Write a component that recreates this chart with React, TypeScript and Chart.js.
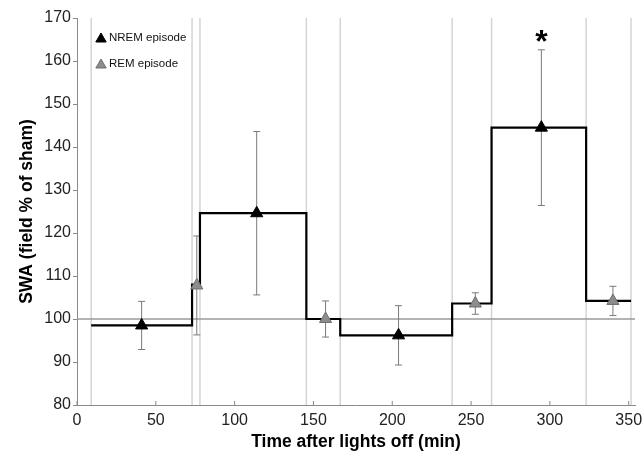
import React, { useEffect, useRef } from 'react';
import { Chart, registerables } from 'chart.js';

Chart.register(...registerables);

// ---- data ----
const xTickValues = [0, 50, 100, 150, 200, 250, 300, 350];
const yTickValues = [80, 90, 100, 110, 120, 130, 140, 150, 160, 170];
const episodeBoundaries = [9, 73, 78, 145.5, 167, 238, 263, 323, 351.5];
const stepLevels = [98.5, 108, 124.6, 100, 96.2, 103.6, 144.5, 104.2];
const nremTimes = [41, 114, 204, 294.6];
const nremValues = [98.5, 124.6, 96.2, 144.5];
const nremErrors = [5.6, 19, 6.9, 18.1];
const nremSignificant = [false, false, false, true];
const remTimes = [76, 157.7, 252.7, 340];
const remValues = [107.8, 100, 103.6, 104.2];
const remErrors = [11.5, 4.2, 2.5, 3.4];
const referenceLevel = 100;
const legendLabels = ['NREM episode', 'REM episode'];

const FONT = "'Liberation Sans', Arial, Helvetica, sans-serif";
const NREM_COLOR = '#000000';
const REM_COLOR = '#8c8c8c';
const REM_BORDER = '#6f6f6f';

function drawTriangle(ctx: CanvasRenderingContext2D, cx: number, cy: number, r: number, fill: string, stroke: string) {
  ctx.beginPath();
  const h = r * 1.5;
  const half = r * Math.sqrt(3) / 2;
  ctx.moveTo(cx, cy - r);
  ctx.lineTo(cx + half, cy - r + h);
  ctx.lineTo(cx - half, cy - r + h);
  ctx.closePath();
  ctx.fillStyle = fill;
  ctx.fill();
  ctx.strokeStyle = stroke;
  ctx.lineWidth = 1;
  ctx.stroke();
}

const decorPlugin = {
  id: 'decor',
  beforeDatasetsDraw(chart: any) {
    const { ctx, chartArea, scales } = chart;
    const x = scales.x;
    const y = scales.y;
    ctx.save();
    // episode boundaries
    ctx.strokeStyle = '#d4d4d4';
    ctx.lineWidth = 1.5;
    episodeBoundaries.forEach((b) => {
      const px = x.getPixelForValue(b);
      ctx.beginPath();
      ctx.moveTo(px, chartArea.top);
      ctx.lineTo(px, chartArea.bottom);
      ctx.stroke();
    });
    // reference line
    ctx.strokeStyle = '#9a9a9a';
    ctx.lineWidth = 1.3;
    const ry = y.getPixelForValue(referenceLevel);
    ctx.beginPath();
    ctx.moveTo(chartArea.left, ry);
    ctx.lineTo(chartArea.right, ry);
    ctx.stroke();
    // error bars
    ctx.strokeStyle = '#7a7a7a';
    ctx.lineWidth = 1;
    const drawErr = (t: number, v: number, e: number) => {
      const px = x.getPixelForValue(t);
      const top = y.getPixelForValue(v + e);
      const bot = y.getPixelForValue(v - e);
      ctx.beginPath();
      ctx.moveTo(px, top);
      ctx.lineTo(px, bot);
      ctx.moveTo(px - 3.5, top);
      ctx.lineTo(px + 3.5, top);
      ctx.moveTo(px - 3.5, bot);
      ctx.lineTo(px + 3.5, bot);
      ctx.stroke();
    };
    nremTimes.forEach((t, i) => drawErr(t, nremValues[i], nremErrors[i]));
    remTimes.forEach((t, i) => drawErr(t, remValues[i], remErrors[i]));
    ctx.restore();
  },
  afterDraw(chart: any) {
    const { ctx, chartArea, scales } = chart;
    const x = scales.x;
    const y = scales.y;
    ctx.save();
    // inward x ticks
    ctx.strokeStyle = '#888';
    ctx.lineWidth = 1;
    xTickValues.forEach((v) => {
      const px = x.getPixelForValue(v);
      ctx.beginPath();
      ctx.moveTo(px, chartArea.bottom);
      ctx.lineTo(px, chartArea.bottom - 4);
      ctx.stroke();
    });
    // significance asterisks
    ctx.fillStyle = '#000';
    ctx.font = `bold 32px ${FONT}`;
    ctx.textAlign = 'center';
    ctx.textBaseline = 'alphabetic';
    nremTimes.forEach((t, i) => {
      if (!nremSignificant[i]) return;
      const px = x.getPixelForValue(t);
      const top = y.getPixelForValue(nremValues[i] + nremErrors[i]);
      ctx.fillText('*', px, top + 2);
    });
    // legend
    const lx = chartArea.left + 24;
    const ly1 = chartArea.top + 21;
    const ly2 = chartArea.top + 47;
    drawTriangle(ctx, lx, ly1, 6, NREM_COLOR, NREM_COLOR);
    drawTriangle(ctx, lx, ly2, 6, REM_COLOR, REM_BORDER);
    ctx.fillStyle = '#111';
    ctx.font = `11.5px ${FONT}`;
    ctx.textAlign = 'left';
    ctx.textBaseline = 'middle';
    ctx.fillText(legendLabels[0], lx + 8, ly1 - 1);
    ctx.fillText(legendLabels[1], lx + 8, ly2 - 1);
    ctx.restore();
  },
};

export default function App() {
  const canvasRef = useRef<HTMLCanvasElement | null>(null);

  useEffect(() => {
    document.body.style.margin = '0';
    const canvas = canvasRef.current;
    if (!canvas) return;

    const stepData = episodeBoundaries.slice(0, -1).map((b, i) => ({ x: b, y: stepLevels[i] }));
    stepData.push({ x: episodeBoundaries[episodeBoundaries.length - 1], y: stepLevels[stepLevels.length - 1] });

    const chart = new Chart(canvas, {
      type: 'line',
      data: {
        datasets: [
          {
            label: legendLabels[0],
            data: nremTimes.map((t, i) => ({ x: t, y: nremValues[i] })),
            showLine: false,
            pointStyle: 'triangle',
            pointRadius: 7,
            pointBackgroundColor: NREM_COLOR,
            pointBorderColor: NREM_COLOR,
            pointBorderWidth: 1,
            borderColor: NREM_COLOR,
            backgroundColor: NREM_COLOR,
          },
          {
            label: legendLabels[1],
            data: remTimes.map((t, i) => ({ x: t, y: remValues[i] })),
            showLine: false,
            pointStyle: 'triangle',
            pointRadius: 7,
            pointBackgroundColor: REM_COLOR,
            pointBorderColor: REM_BORDER,
            pointBorderWidth: 1,
            borderColor: REM_COLOR,
            backgroundColor: REM_COLOR,
          },
          {
            label: 'SWA',
            data: stepData,
            stepped: 'before',
            borderColor: '#000',
            borderWidth: 2.2,
            pointRadius: 0,
            fill: false,
          },
        ],
      },
      options: {
        animation: false,
        responsive: false,
        layout: { padding: { left: 0, top: 18, right: 6, bottom: 0 } },
        plugins: { legend: { display: false }, tooltip: { enabled: false } },
        scales: {
          x: {
            type: 'linear',
            min: 0,
            max: 354,
            afterBuildTicks: (scale: any) => {
              scale.ticks = xTickValues.map((v) => ({ value: v }));
            },
            afterFit: (scale: any) => {
              scale.height = 48;
              scale.paddingLeft = 0;
              scale.paddingRight = 0;
            },
            grid: { display: false },
            border: { display: true, color: '#8a8a8a', width: 1 },
            ticks: {
              color: '#222',
              font: { family: FONT, size: 16 },
              padding: -2,
              maxRotation: 0,
              autoSkip: false,
            },
            title: {
              display: true,
              text: 'Time after lights off (min)',
              color: '#000',
              font: { family: FONT, size: 17.5, weight: 'bold' },
              padding: { top: 0, bottom: 0 },
            },
          },
          y: {
            type: 'linear',
            min: 80,
            max: 170,
            afterBuildTicks: (scale: any) => {
              scale.ticks = yTickValues.map((v) => ({ value: v }));
            },
            afterFit: (scale: any) => {
              scale.width = 77;
              scale.paddingTop = 0;
              scale.paddingBottom = 0;
            },
            grid: { display: true, drawOnChartArea: false, drawTicks: true, tickLength: 4, color: '#8a8a8a' },
            border: { display: true, color: '#8a8a8a', width: 1 },
            ticks: {
              color: '#222',
              font: { family: FONT, size: 16 },
              padding: 2,
              autoSkip: false,
            },
            title: {
              display: true,
              text: 'SWA (field % of sham)',
              color: '#000',
              font: { family: FONT, size: 17.5, weight: 'bold' },
              padding: { top: 17, bottom: 0 },
            },
          },
        },
      },
      plugins: [decorPlugin],
    } as any);

    return () => {
      chart.destroy();
    };
  }, []);

  return (
    <div style={{ width: 643, height: 453, background: '#fff' }}>
      <canvas ref={canvasRef} width={643} height={453} style={{ display: 'block' }} />
    </div>
  );
}
